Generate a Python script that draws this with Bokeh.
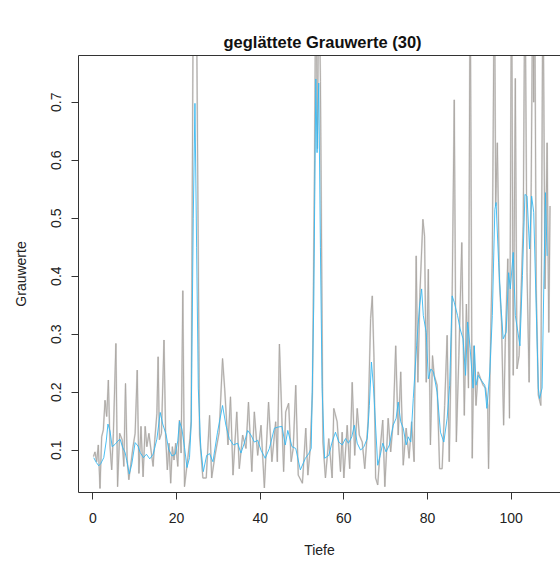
from bokeh.plotting import figure
from bokeh.models import LinearAxis, FixedTicker, Range1d
from bokeh.embed import file_html
from bokeh.resources import INLINE

# Tiefe (depth) and raw grey values
tiefe_roh = [0.15, 0.5, 0.9, 1.3, 1.7, 2.1, 2.5, 2.9, 3.3, 3.7, 4.1, 4.5, 4.9, 5.5, 5.9,
             6.4, 7.0, 7.4, 7.8, 8.2, 8.6, 9.2, 9.6, 10.1, 10.6, 11.0, 11.5, 12.0, 12.5,
             12.9, 13.4, 13.9, 14.4, 14.8, 15.3, 15.6, 15.9, 16.4, 17.0, 17.4, 17.8, 18.2,
             18.6, 19.0, 19.4, 19.8, 20.3, 20.7, 21.1, 21.5, 21.9, 22.6, 23.2, 23.5, 24.0,
             24.4, 24.8, 25.5, 26.3, 27.1, 27.9, 28.4, 29.2, 30.2, 31.0, 31.5, 32.3, 32.9,
             33.5, 34.4, 35.0, 35.8, 36.6, 37.2, 38.0, 38.6, 39.4, 40.2, 41.0, 42.0, 42.8,
             43.7, 44.1, 44.6, 45.6, 46.1, 46.8, 47.4, 47.9, 48.5, 49.1, 50.1, 50.9, 51.4,
             51.9, 52.5, 53.0, 53.3, 53.7, 54.0, 54.4, 55.0, 55.6, 56.4, 57.2, 57.6, 58.4,
             59.2, 59.6, 60.0, 60.8, 61.4, 62.0, 62.6, 63.2, 63.7, 64.4, 65.0, 65.8, 66.4,
             66.8, 67.2, 67.6, 68.1, 68.7, 69.3, 69.8, 70.6, 71.2, 71.8, 72.4, 73.0, 73.6,
             74.2, 74.9, 75.6, 76.2, 76.8, 77.3, 77.7, 78.2, 78.9, 79.3, 79.7, 80.2, 80.7,
             81.2, 81.6, 82.3, 82.9, 83.5, 84.1, 84.7, 85.2, 85.9, 86.4, 86.9, 87.5, 88.2,
             88.8, 89.3, 89.8, 90.2, 90.7, 91.1, 91.6, 92.1, 92.7, 93.3, 93.9, 94.4, 94.6,
             95.0, 95.5, 96.0, 96.3, 96.7, 97.2, 97.7, 98.2, 98.6, 99.2, 99.6, 100.1, 100.5,
             101.0, 101.4, 101.9, 102.4, 102.9, 103.3, 103.8, 104.3, 104.8, 105.2, 105.4,
             105.6, 106.0, 106.5, 107.1, 107.6, 108.1, 108.6, 109.0, 109.3]
grau_roh = [0.089, 0.097, 0.080, 0.109, 0.034, 0.123, 0.135, 0.186, 0.158, 0.221, 0.106,
            0.066, 0.129, 0.284, 0.037, 0.129, 0.118, 0.072, 0.215, 0.083, 0.049, 0.083,
            0.106, 0.129, 0.238, 0.060, 0.141, 0.054, 0.141, 0.106, 0.129, 0.100, 0.072,
            0.118, 0.163, 0.261, 0.118, 0.129, 0.290, 0.123, 0.066, 0.112, 0.043, 0.106,
            0.083, 0.112, 0.072, 0.152, 0.095, 0.375, 0.037, 0.080, 0.120, 0.150, 0.900,
            1.100, 0.850, 0.126, 0.052, 0.052, 0.160, 0.052, 0.091, 0.131, 0.258, 0.207,
            0.109, 0.192, 0.057, 0.166, 0.068, 0.126, 0.103, 0.183, 0.063, 0.166, 0.091,
            0.143, 0.035, 0.183, 0.080, 0.149, 0.080, 0.283, 0.063, 0.166, 0.181, 0.080,
            0.103, 0.212, 0.057, 0.043, 0.138, 0.057, 0.097, 0.200, 0.600, 0.950, 0.620,
            0.950, 0.736, 0.114, 0.052, 0.120, 0.052, 0.172, 0.149, 0.063, 0.131, 0.052,
            0.143, 0.068, 0.217, 0.091, 0.172, 0.126, 0.114, 0.068, 0.149, 0.327, 0.366,
            0.260, 0.052, 0.040, 0.103, 0.152, 0.037, 0.155, 0.097, 0.149, 0.280, 0.126,
            0.235, 0.074, 0.138, 0.086, 0.149, 0.080, 0.435, 0.217, 0.372, 0.498, 0.469,
            0.217, 0.412, 0.109, 0.263, 0.229, 0.212, 0.068, 0.068, 0.177, 0.298, 0.080,
            0.366, 0.704, 0.114, 0.263, 0.458, 0.160, 0.352, 0.207, 0.950, 0.086, 0.280,
            0.177, 0.235, 0.223, 0.212, 0.207, 0.177, 0.068, 0.258, 0.435, 0.950, 0.521,
            0.630, 0.390, 0.321, 0.143, 0.286, 0.430, 0.155, 0.950, 0.229, 0.741, 0.240,
            0.263, 0.378, 0.493, 0.950, 0.406, 0.217, 0.561, 0.950, 0.700, 0.950, 0.378,
            0.195, 0.177, 0.950, 0.378, 0.630, 0.303, 0.521]

# smoothed grey values (window 30)
tiefe_glatt = [0.2, 0.8, 1.4, 1.9, 2.6, 3.2, 3.6, 4.1, 4.6, 5.3, 6.0, 6.5, 7.1, 7.7, 8.1,
               8.7, 9.3, 10.1, 10.8, 11.3, 12.1, 12.8, 13.6, 14.4, 15.3, 16.1, 16.7, 17.5,
               18.1, 18.9, 19.7, 20.3, 20.7, 21.3, 21.9, 22.5, 23.1, 23.5, 24.0, 24.4, 24.8,
               25.2, 25.8, 26.4, 27.2, 27.9, 28.7, 29.8, 31.0, 31.8, 32.6, 33.6, 34.6, 35.4,
               36.2, 37.0, 37.8, 38.6, 39.4, 40.2, 41.2, 42.2, 43.4, 44.4, 45.2, 46.0, 46.6,
               47.6, 48.5, 49.6, 50.8, 51.6, 52.2, 52.8, 53.3, 53.6, 54.0, 54.4, 54.8, 55.4,
               56.4, 57.2, 58.0, 58.8, 59.6, 60.4, 61.1, 61.9, 62.5, 63.2, 64.0, 64.8, 65.6,
               66.1, 66.6, 67.1, 68.1, 68.7, 69.3, 70.1, 70.9, 71.8, 72.5, 73.0, 73.6, 74.2,
               74.9, 75.4, 76.0, 76.6, 77.4, 78.1, 78.6, 79.0, 79.7, 80.2, 80.8, 81.4, 82.3,
               83.1, 83.9, 84.7, 85.3, 85.9, 86.4, 87.2, 87.8, 88.5, 89.1, 89.6, 90.2, 90.9,
               91.2, 91.6, 92.1, 92.9, 93.7, 94.2, 94.9, 95.5, 96.1, 96.4, 97.0, 97.6, 98.1,
               98.8, 99.4, 99.8, 100.5, 101.0, 101.5, 102.1, 102.7, 103.3, 103.8, 104.4,
               104.9, 105.4, 106.0, 106.5, 106.8, 107.4, 107.8, 108.2, 108.6]
grau_glatt = [0.087, 0.079, 0.073, 0.077, 0.087, 0.116, 0.145, 0.133, 0.106, 0.110, 0.116,
              0.119, 0.105, 0.096, 0.082, 0.059, 0.076, 0.113, 0.107, 0.096, 0.087, 0.093,
              0.085, 0.093, 0.119, 0.165, 0.145, 0.127, 0.102, 0.090, 0.093, 0.116, 0.150,
              0.136, 0.105, 0.070, 0.087, 0.145, 0.500, 0.698, 0.450, 0.207, 0.103, 0.063,
              0.091, 0.094, 0.080, 0.131, 0.177, 0.143, 0.120, 0.109, 0.112, 0.095, 0.112,
              0.134, 0.126, 0.114, 0.117, 0.100, 0.086, 0.103, 0.138, 0.140, 0.141, 0.109,
              0.134, 0.106, 0.103, 0.066, 0.086, 0.094, 0.103, 0.350, 0.740, 0.613, 0.733,
              0.450, 0.207, 0.086, 0.091, 0.114, 0.131, 0.114, 0.109, 0.120, 0.112, 0.123,
              0.143, 0.112, 0.100, 0.106, 0.120, 0.177, 0.252, 0.207, 0.074, 0.091, 0.112,
              0.097, 0.109, 0.143, 0.155, 0.183, 0.149, 0.138, 0.109, 0.123, 0.114, 0.189,
              0.280, 0.349, 0.378, 0.332, 0.303, 0.223, 0.240, 0.235, 0.200, 0.131, 0.114,
              0.155, 0.212, 0.366, 0.355, 0.332, 0.309, 0.292, 0.229, 0.321, 0.275, 0.207,
              0.280, 0.212, 0.229, 0.220, 0.212, 0.172, 0.235, 0.332, 0.515, 0.527, 0.424,
              0.344, 0.292, 0.303, 0.406, 0.378, 0.441, 0.332, 0.309, 0.280, 0.401, 0.541,
              0.538, 0.447, 0.538, 0.510, 0.344, 0.207, 0.189, 0.207, 0.378, 0.544, 0.435]

x_ticks = [0, 20, 40, 60, 80, 100]
y_ticks = [0.1, 0.2, 0.3, 0.4, 0.5, 0.6, 0.7]

FONT = "Liberation Sans"
AXC = "#333333"

p = figure(width=560, height=563, output_backend="svg", toolbar_location=None,
           x_range=Range1d(-3.44, 111.8), y_range=Range1d(0.027, 0.7805),
           min_border_left=78, min_border_right=0, min_border_top=55, min_border_bottom=71,
           title="geglättete Grauwerte (30)")
p.outline_line_color = None
p.grid.visible = False
p.background_fill_color = "white"
p.border_fill_color = "white"

p.title.text_font = FONT
p.title.text_font_size = "16.5px"
p.title.text_font_style = "bold"
p.title.text_color = "#111111"
p.title.align = "left"
p.title.offset = 145
p.title.standoff = 10

# raw grey line (light halo + darker core) and smoothed blue line
p.line(tiefe_roh, grau_roh, line_color="#dedede", line_width=1.8)
p.line(tiefe_roh, grau_roh, line_color="#aaa6a2", line_width=0.9)
p.line(tiefe_glatt, grau_glatt, line_color="#35b8f2", line_width=0.9)

for ax in (p.xaxis[0], p.yaxis[0]):
    ax.axis_line_color = AXC
    ax.major_tick_line_color = AXC
    ax.major_tick_out = 7
    ax.major_tick_in = 0
    ax.minor_tick_line_color = None
    ax.major_label_text_font = FONT
    ax.major_label_text_font_size = "14px"
    ax.major_label_text_color = "#222222"
    ax.axis_label_text_font = FONT
    ax.axis_label_text_font_size = "14px"
    ax.axis_label_text_font_style = "normal"
    ax.axis_label_text_color = "#222222"

p.xaxis.ticker = FixedTicker(ticks=x_ticks)
p.yaxis.ticker = FixedTicker(ticks=y_ticks)
p.xaxis.axis_label = "Tiefe"
p.yaxis.axis_label = "Grauwerte"
p.xaxis.major_label_standoff = 13
p.xaxis.axis_label_standoff = 16
p.yaxis.major_label_standoff = 10
p.yaxis.axis_label_standoff = 20
p.yaxis.major_label_orientation = "vertical"

# top edge of the box; its (invisible) tick extent lifts the title away from the frame
top = LinearAxis(ticker=FixedTicker(ticks=[]), axis_line_color=AXC,
                 major_tick_line_color=None, minor_tick_line_color=None,
                 major_tick_out=25, major_tick_in=0, minor_tick_out=0,
                 major_label_text_font_size="0px")
p.add_layout(top, "above")

open("out.html", "w").write(file_html(p, INLINE))
